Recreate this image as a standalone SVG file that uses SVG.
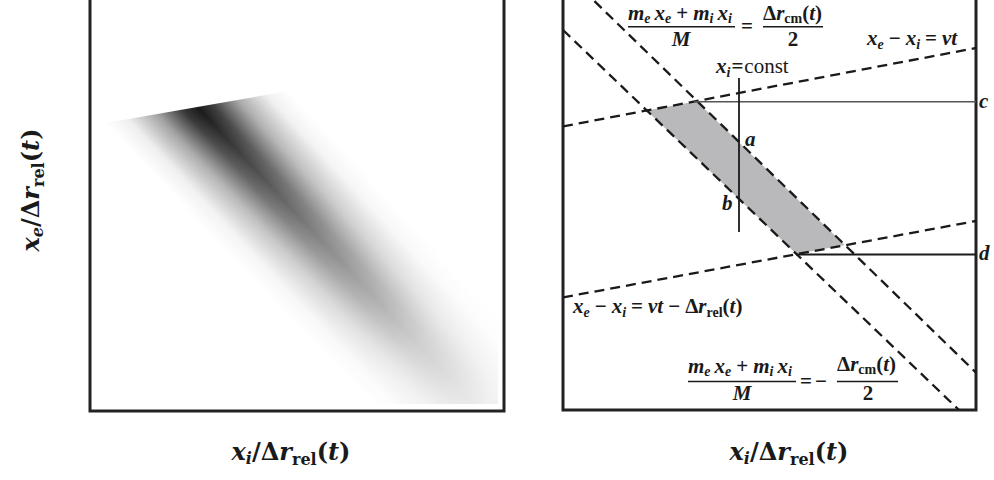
<svg xmlns="http://www.w3.org/2000/svg" width="994" height="480" viewBox="0 0 994 480">
<style>
.m{font-family:"Liberation Serif","Times New Roman",serif;font-style:italic;font-weight:bold;font-size:21px;fill:#1a1a1a}
.u{font-style:normal}
.s{font-size:14px}
.ax{font-family:"DejaVu Serif","Liberation Serif",serif;font-style:italic;font-weight:bold;font-size:24px;fill:#1a1a1a}
.axs{font-size:16px}
.frame{fill:none;stroke:#222;stroke-width:3}
.dash{fill:none;stroke:#1a1a1a;stroke-width:2.3;stroke-dasharray:10 6}
.bar{stroke:#1a1a1a;stroke-width:1.4}
</style>
<defs>
<linearGradient id="along" gradientUnits="userSpaceOnUse" x1="200" y1="110" x2="480" y2="410">
<stop offset="0" stop-color="#000" stop-opacity="0.9"/>
<stop offset="0.15" stop-color="#000" stop-opacity="0.74"/>
<stop offset="0.45" stop-color="#000" stop-opacity="0.46"/>
<stop offset="0.78" stop-color="#000" stop-opacity="0.19"/>
<stop offset="1" stop-color="#000" stop-opacity="0.07"/>
</linearGradient>
<linearGradient id="across" gradientUnits="userSpaceOnUse" x1="143" y1="163" x2="257" y2="57">
<stop offset="0" stop-color="#000"/>
<stop offset="0.12" stop-color="#121212"/>
<stop offset="0.28" stop-color="#666"/>
<stop offset="0.42" stop-color="#dcdcdc"/>
<stop offset="0.5" stop-color="#fff"/>
<stop offset="0.58" stop-color="#dcdcdc"/>
<stop offset="0.72" stop-color="#666"/>
<stop offset="0.88" stop-color="#121212"/>
<stop offset="1" stop-color="#000"/>
</linearGradient>
<mask id="bandMask" maskUnits="userSpaceOnUse" x="0" y="0" width="994" height="480">
<rect x="0" y="0" width="994" height="480" fill="url(#across)"/>
</mask>
<clipPath id="leftClip"><rect x="92" y="0" width="406" height="404"/></clipPath>
<clipPath id="rightClip"><rect x="563" y="-5" width="413" height="415"/></clipPath>
</defs>
<rect x="0" y="0" width="994" height="480" fill="#fff"/>

<g id="left-panel">
<g clip-path="url(#leftClip)">
<polygon points="100,124 300,89 502,290 502,409 380,409" fill="url(#along)" mask="url(#bandMask)"/>
</g>
<rect class="frame" x="90" y="-5" width="414" height="416"/>
</g>

<g id="right-panel">
<rect class="frame" x="563" y="-5" width="413" height="415"/>
<g id="shaded-region">
<polygon points="646.7,110.5 696.7,101.3 844.6,245 796.4,254.1" fill="#b9b9bc"/>
</g>
<g id="connectors" clip-path="url(#rightClip)">
<line class="dash" x1="583" y1="-10" x2="976" y2="372.6"/>
<line class="dash" x1="563" y1="30" x2="959" y2="410"/>
<line class="dash" x1="563" y1="126.4" x2="976" y2="48"/>
<line class="dash" x1="563" y1="297.4" x2="976" y2="221"/>
<line x1="694" y1="101.8" x2="976" y2="101.8" stroke="#555" stroke-width="1.4"/>
<line x1="796" y1="254.5" x2="976" y2="254.5" stroke="#1a1a1a" stroke-width="2"/>
<line x1="739" y1="78" x2="739" y2="232" stroke="#1a1a1a" stroke-width="1.8"/>
</g>

<g id="label-cm-plus">
<text class="m" x="628" y="20">m<tspan class="s" dy="3">e</tspan><tspan dy="-3" dx="4">x</tspan><tspan class="s" dy="3">e</tspan><tspan class="u" dy="-3" dx="5">+</tspan><tspan dx="5">m</tspan><tspan class="s" dy="3">i</tspan><tspan dy="-3" dx="4">x</tspan><tspan class="s" dy="3">i</tspan></text>
<line class="bar" x1="628" y1="26.8" x2="735" y2="26.8"/>
<text class="m" x="681" y="46" text-anchor="middle">M</text>
<text class="m u" x="747" y="33" text-anchor="middle">=</text>
<text class="m" x="763" y="20"><tspan class="u">Δ</tspan>r<tspan class="s u" dy="3">cm</tspan><tspan class="u" dy="-3">(</tspan>t<tspan class="u">)</tspan></text>
<line class="bar" x1="763" y1="26.8" x2="823" y2="26.8"/>
<text class="m u" x="793" y="46" text-anchor="middle">2</text>
</g>

<g id="label-vt">
<text class="m" x="867" y="45">x<tspan class="s" dy="4">e</tspan><tspan class="u" dy="-4" dx="5">−</tspan><tspan dx="5">x</tspan><tspan class="s" dy="4">i</tspan><tspan class="u" dy="-4" dx="5">=</tspan><tspan dx="5">vt</tspan></text>
</g>

<g id="label-const">
<text class="m" x="716" y="73">x<tspan class="s" dy="4">i</tspan><tspan class="u" dy="-4" dx="1">=</tspan><tspan class="u" dx="1" font-weight="normal">const</tspan></text>
</g>

<text class="m" x="745" y="146">a</text>
<text class="m" x="722" y="210">b</text>
<text class="m" x="979" y="108">c</text>
<text class="m" x="979" y="260">d</text>

<g id="label-vt-rel">
<text class="m" x="573" y="313">x<tspan class="s" dy="4">e</tspan><tspan class="u" dy="-4" dx="5">−</tspan><tspan dx="5">x</tspan><tspan class="s" dy="4">i</tspan><tspan class="u" dy="-4" dx="5">=</tspan><tspan dx="5">vt</tspan><tspan class="u" dx="5">−</tspan><tspan class="u" dx="5">Δ</tspan>r<tspan class="s u" dy="4">rel</tspan><tspan class="u" dy="-4">(</tspan>t<tspan class="u">)</tspan></text>
</g>

<g id="label-cm-minus">
<text class="m" x="688" y="373">m<tspan class="s" dy="3">e</tspan><tspan dy="-3" dx="4">x</tspan><tspan class="s" dy="3">e</tspan><tspan class="u" dy="-3" dx="5">+</tspan><tspan dx="5">m</tspan><tspan class="s" dy="3">i</tspan><tspan dy="-3" dx="4">x</tspan><tspan class="s" dy="3">i</tspan></text>
<line class="bar" x1="688" y1="381.5" x2="796" y2="381.5"/>
<text class="m" x="742" y="400" text-anchor="middle">M</text>
<text class="m u" x="800" y="388">=</text>
<text class="m u" x="815" y="388">−</text>
<text class="m" x="837" y="371"><tspan class="u">Δ</tspan>r<tspan class="s u" dy="3">cm</tspan><tspan class="u" dy="-3">(</tspan>t<tspan class="u">)</tspan></text>
<line class="bar" x1="837" y1="381.5" x2="898" y2="381.5"/>
<text class="m u" x="868" y="400" text-anchor="middle">2</text>
</g>
</g>

<g id="axis-labels">
<text class="ax" x="291" y="460" text-anchor="middle">x<tspan class="axs" dy="4">i</tspan><tspan class="u" dy="-4">/Δ</tspan>r<tspan class="axs u" dy="5">rel</tspan><tspan class="u" dy="-5">(</tspan>t<tspan class="u">)</tspan></text>
<text class="ax" x="789" y="460" text-anchor="middle">x<tspan class="axs" dy="4">i</tspan><tspan class="u" dy="-4">/Δ</tspan>r<tspan class="axs u" dy="5">rel</tspan><tspan class="u" dy="-5">(</tspan>t<tspan class="u">)</tspan></text>
<text class="ax" transform="translate(39,190) rotate(-90)" x="0" y="0" text-anchor="middle">x<tspan class="axs" dy="4">e</tspan><tspan class="u" dy="-4">/Δ</tspan>r<tspan class="axs u" dy="5">rel</tspan><tspan class="u" dy="-5">(</tspan>t<tspan class="u">)</tspan></text>
</g>
</svg>
